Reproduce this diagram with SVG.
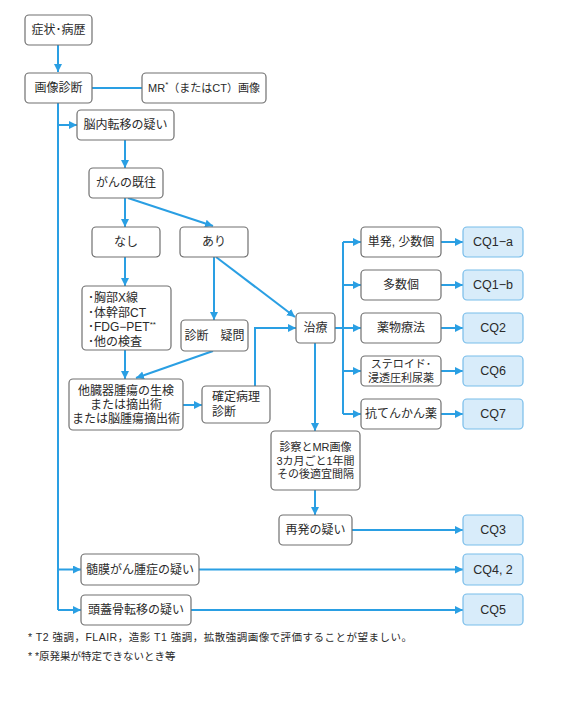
<svg xmlns="http://www.w3.org/2000/svg" width="571" height="707" viewBox="0 0 571 707">
<style>
.b{fill:#fff;stroke:#707070;stroke-width:1.2}
.cq{fill:#d8ecfa;stroke:#78bdea;stroke-width:1.2}
.t{font-family:"Liberation Sans","Noto Sans CJK JP",sans-serif;font-size:12px;fill:#2a2a2a;text-anchor:middle;dominant-baseline:central}
.s{font-size:11px}
.l{text-anchor:start}
.c{font-size:12.5px}
.sup{font-size:8px}
.f{font-family:"Liberation Sans","Noto Sans CJK JP",sans-serif;font-size:10.5px;fill:#2a2a2a}
.w{fill:none;stroke:#2a9fe3;stroke-width:2}
.a{marker-end:url(#ah)}
</style>
<defs>
<marker id="ah" markerUnits="userSpaceOnUse" markerWidth="9" markerHeight="9" refX="8" refY="4" orient="auto">
<path d="M0,0 L8,4 L0,8 z" fill="#2a9fe3"/>
</marker>
</defs>
<rect width="571" height="707" fill="#fff"/>
<g id="connectors">
<path class="w a" d="M58,45 V72"/>
<path class="w" d="M92,88 H142"/>
<path class="w" d="M58,103 V610"/>
<path class="w a" d="M58,125 H77"/>
<path class="w a" d="M58,569.5 H81"/>
<path class="w a" d="M58,610 H81"/>
<path class="w a" d="M125,140 V168"/>
<path class="w a" d="M125,198 V227"/>
<path class="w a" d="M128,198 L213,226"/>
<path class="w a" d="M125,257 V286"/>
<path class="w a" d="M214,257 V320"/>
<path class="w a" d="M216,257 L295,317"/>
<path class="w a" d="M125,350 V379"/>
<path class="w a" d="M213,351 L136,378"/>
<path class="w a" d="M183,405 H202"/>
<path class="w a" d="M255,386 V328 H296"/>
<path class="w" d="M335,328 H343 M343,242 V414"/>
<path class="w a" d="M343,242 H361"/>
<path class="w a" d="M343,285 H361"/>
<path class="w a" d="M343,328 H361"/>
<path class="w a" d="M343,371 H361"/>
<path class="w a" d="M343,414 H361"/>
<path class="w a" d="M441,242 H463"/>
<path class="w a" d="M441,285 H463"/>
<path class="w a" d="M441,328 H463"/>
<path class="w a" d="M441,371 H463"/>
<path class="w a" d="M441,414 H463"/>
<path class="w a" d="M315,343 V431"/>
<path class="w a" d="M315,490 V515"/>
<path class="w a" d="M352,530 H463"/>
<path class="w a" d="M199,569.5 H463"/>
<path class="w a" d="M191,610 H463"/>
</g>
<g id="n1"><rect class="b" x="25" y="15" width="67" height="30" rx="4"/><text class="t" x="58.5" y="30">症状･病歴</text></g>
<g id="n2"><rect class="b" x="25" y="73" width="67" height="30" rx="4"/><text class="t" x="58.5" y="88">画像診断</text></g>
<g id="n3"><rect class="b" x="142" y="73" width="124" height="30" rx="4"/><text class="t" x="204" y="88" style="font-size:11px">MR<tspan class="sup" dy="-4">*</tspan><tspan dy="4">（またはCT）画像</tspan></text></g>
<g id="n4"><rect class="b" x="77" y="110" width="97" height="30" rx="4"/><text class="t" x="125.5" y="125">脳内転移の疑い</text></g>
<g id="n5"><rect class="b" x="89" y="168" width="74" height="30" rx="4"/><text class="t" x="126" y="183">がんの既往</text></g>
<g id="n6"><rect class="b" x="92" y="227" width="68" height="30" rx="4"/><text class="t" x="126" y="242">なし</text></g>
<g id="n7"><rect class="b" x="180" y="227" width="68" height="30" rx="4"/><text class="t" x="214" y="242">あり</text></g>
<g id="n8"><rect class="b" x="82" y="286" width="89" height="64" rx="4"/>
<text class="t l" x="88" y="298">･胸部X線</text>
<text class="t l" x="88" y="312.5">･体幹部CT</text>
<text class="t l" x="88" y="327">･FDG−PET<tspan class="sup" dy="-3">**</tspan></text>
<text class="t l" x="88" y="341.5">･他の検査</text></g>
<g id="n9"><rect class="b" x="181" y="320" width="67" height="31" rx="4"/><text class="t" x="214.5" y="335.5">診断　疑問</text></g>
<g id="n10"><rect class="b" x="69" y="379" width="114" height="51" rx="4"/>
<text class="t" x="126" y="391">他臓器腫瘍の生検</text>
<text class="t" x="126" y="405">または摘出術</text>
<text class="t" x="126" y="419">または脳腫瘍摘出術</text></g>
<g id="n11"><rect class="b" x="202" y="386" width="68" height="37" rx="4"/>
<text class="t l" x="212" y="397">確定病理</text>
<text class="t l" x="212" y="412">診断</text></g>
<g id="n12"><rect class="b" x="296" y="313" width="39" height="30" rx="4"/><text class="t" x="315.5" y="328">治療</text></g>
<g id="n13"><rect class="b" x="361" y="227" width="80" height="30" rx="4"/><text class="t" x="401" y="242">単発, 少数個</text></g>
<g id="n14"><rect class="b" x="361" y="270" width="80" height="30" rx="4"/><text class="t" x="401" y="285">多数個</text></g>
<g id="n15"><rect class="b" x="361" y="313" width="80" height="30" rx="4"/><text class="t" x="401" y="328">薬物療法</text></g>
<g id="n16"><rect class="b" x="361" y="356" width="80" height="30" rx="4"/>
<text class="t s" x="401" y="364">ステロイド･</text>
<text class="t s" x="401" y="378">浸透圧利尿薬</text></g>
<g id="n17"><rect class="b" x="361" y="399" width="80" height="30" rx="4"/><text class="t" x="401" y="414">抗てんかん薬</text></g>
<g id="cq1a"><rect class="cq" x="463" y="227" width="60" height="30" rx="4"/><text class="t c" x="493" y="242">CQ1−a</text></g>
<g id="cq1b"><rect class="cq" x="463" y="270" width="60" height="30" rx="4"/><text class="t c" x="493" y="285">CQ1−b</text></g>
<g id="cq2"><rect class="cq" x="463" y="313" width="60" height="30" rx="4"/><text class="t c" x="493" y="328">CQ2</text></g>
<g id="cq6"><rect class="cq" x="463" y="356" width="60" height="30" rx="4"/><text class="t c" x="493" y="371">CQ6</text></g>
<g id="cq7"><rect class="cq" x="463" y="399" width="60" height="30" rx="4"/><text class="t c" x="493" y="414">CQ7</text></g>
<g id="n18"><rect class="b" x="271" y="431" width="89" height="59" rx="4"/>
<text class="t s" x="315.5" y="447">診察とMR画像</text>
<text class="t s" x="315.5" y="460.5">3カ月ごと1年間</text>
<text class="t s" x="315.5" y="474">その後適宜間隔</text></g>
<g id="n19"><rect class="b" x="279" y="515" width="73" height="30" rx="4"/><text class="t" x="315.5" y="530">再発の疑い</text></g>
<g id="cq3"><rect class="cq" x="463" y="515" width="60" height="30" rx="4"/><text class="t c" x="493" y="530">CQ3</text></g>
<g id="n20"><rect class="b" x="81" y="554" width="118" height="31" rx="4"/><text class="t" x="140" y="569.5">髄膜がん腫症の疑い</text></g>
<g id="cq4"><rect class="cq" x="463" y="554" width="60" height="31" rx="4"/><text class="t c" x="493" y="569.5">CQ4, 2</text></g>
<g id="n21"><rect class="b" x="81" y="595" width="110" height="30" rx="4"/><text class="t" x="136" y="610">頭蓋骨転移の疑い</text></g>
<g id="cq5"><rect class="cq" x="463" y="594" width="60" height="31" rx="4"/><text class="t c" x="493" y="609.5">CQ5</text></g>
<g id="notes">
<text class="f" x="28" y="641" textLength="384">*  T2 強調，FLAIR，造影 T1 強調，拡散強調画像で評価することが望ましい。</text>
<text class="f" x="28" y="660">* *原発巣が特定できないとき等</text>
</g>
</svg>
